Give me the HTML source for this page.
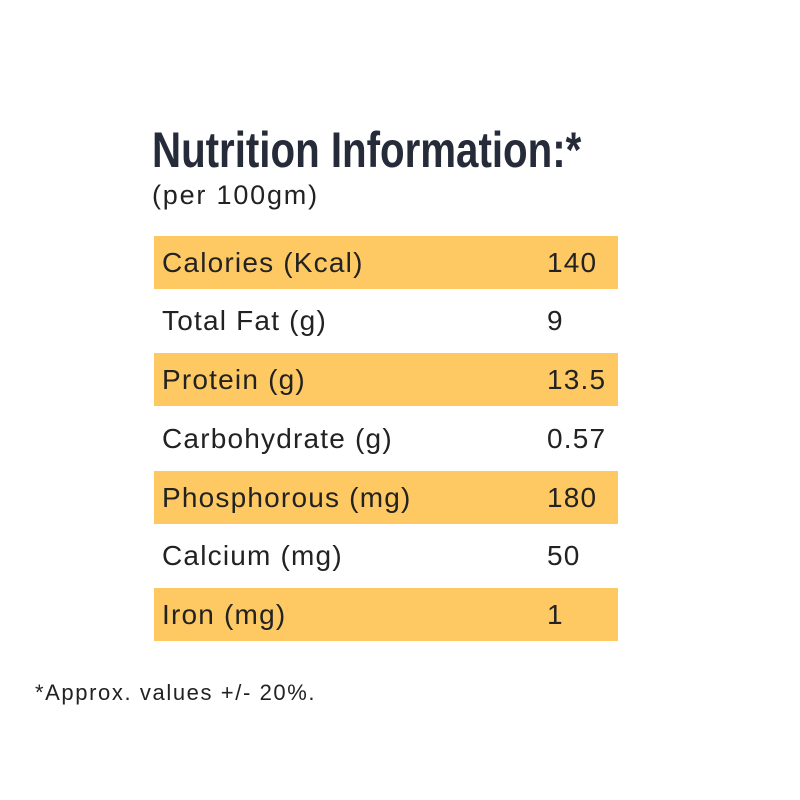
<!DOCTYPE html>
<html><head><meta charset="utf-8"><style>
body{margin:0;width:800px;height:800px;background:#fff;position:relative;font-family:"Liberation Sans",sans-serif;color:#222;overflow:hidden}
.t{position:absolute;left:152px;top:122px;font-size:50px;font-weight:bold;color:#262b3a;transform:scaleX(0.805);transform-origin:left top;white-space:nowrap;line-height:56px}
.s{position:absolute;left:152px;top:178px;font-size:27px;line-height:34px;letter-spacing:1.8px}
.r{position:absolute;left:154px;width:464px;height:53px;font-size:28px;line-height:53px;letter-spacing:1.2px}
.r.y{background:#fec962}
.r span{position:absolute;left:8px}
.r b{position:absolute;left:393px;font-weight:normal}
.f{position:absolute;left:35px;top:680px;font-size:22px;line-height:26px;letter-spacing:1.6px}
</style></head><body>
<div class="t">Nutrition Information:*</div>
<div class="s">(per 100gm)</div>
<div class="r y" style="top:236px"><span>Calories (Kcal)</span><b>140</b></div>
<div class="r" style="top:294px"><span>Total Fat (g)</span><b>9</b></div>
<div class="r y" style="top:353px"><span>Protein (g)</span><b>13.5</b></div>
<div class="r" style="top:412px"><span>Carbohydrate (g)</span><b>0.57</b></div>
<div class="r y" style="top:471px"><span>Phosphorous (mg)</span><b>180</b></div>
<div class="r" style="top:529px"><span>Calcium (mg)</span><b>50</b></div>
<div class="r y" style="top:588px"><span>Iron (mg)</span><b>1</b></div>
<div class="f">*Approx. values +/- 20%.</div>
</body></html>
